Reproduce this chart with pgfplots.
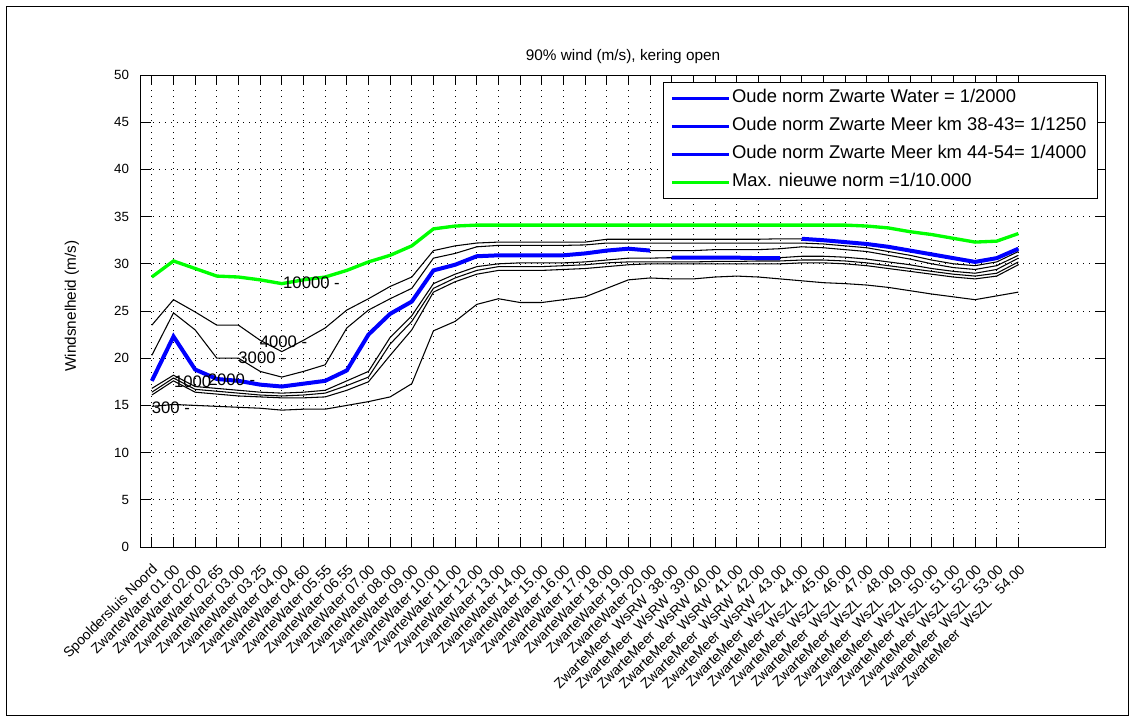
\documentclass[border=0pt]{standalone}
\usepackage{pgfplots}
\pgfplotsset{compat=1.18}
\usepackage{pgfplotstable}
\usepackage{fontspec}
\setmainfont{Liberation Sans}

\pgfplotstableread{
i  g     l4    l3    l2    l12   l1    l5    l03   b1    b2    b3
0  28.6  23.5  20.3  17.6  16.8  16.4  16.1  14.9  17.6  nan   nan
1  30.3  26.2  24.8  22.3  18.2  17.9  17.6  15.1  22.3  nan   nan
2  29.5  24.9  23.0  18.8  17.0  16.7  16.4  15.0  18.8  nan   nan
3  28.7  23.5  20.0  17.8  16.8  16.5  16.2  14.9  17.8  nan   nan
4  28.6  23.5  20.0  17.6  16.6  16.3  16.0  14.8  17.6  nan   nan
5  28.3  21.9  18.6  17.2  16.4  16.1  15.9  14.7  17.2  nan   nan
6  27.9  20.7  18.0  17.0  16.3  16.0  15.8  14.5  17.0  nan   nan
7  28.3  21.9  18.6  17.3  16.4  16.1  15.8  14.6  17.3  nan   nan
8  28.6  23.2  19.3  17.6  16.6  16.3  15.9  14.6  17.6  nan   nan
9  29.3  25.1  23.2  18.7  17.6  17.1  16.6  15.0  18.7  nan   nan
10 30.2  26.3  25.1  22.5  18.6  18.0  17.5  15.4  22.5  nan   nan
11 30.9  27.6  26.3  24.7  22.2  21.5  20.3  15.9  24.7  nan   nan
12 31.9  28.6  27.4  26.0  24.5  23.9  23.0  17.3  26.0  nan   nan
13 33.7  31.4  30.6  29.3  27.9  27.4  27.0  22.9  29.3  nan   nan
14 34.0  31.9  31.1  29.9  28.9  28.5  28.1  23.9  29.9  nan   nan
15 34.1  32.2  31.8  30.8  29.7  29.3  28.9  25.7  30.8  nan   nan
16 34.1  32.3  31.95 30.9  30.0  29.7  29.3  26.3  30.9  nan   nan
17 34.1  32.3  31.95 30.9  30.1  29.7  29.3  25.9  30.9  nan   nan
18 34.1  32.3  31.95 30.9  30.1  29.7  29.3  25.9  30.9  nan   nan
19 34.1  32.3  31.95 30.9  30.1  29.8  29.4  26.2  30.9  nan   nan
20 34.1  32.3  32.0  31.1  30.2  29.9  29.5  26.5  31.1  nan   nan
21 34.1  32.6  32.2  31.4  30.4  30.1  29.7  27.4  31.4  nan   nan
22 34.1  32.6  32.2  31.6  30.6  30.2  29.9  28.3  31.6  nan   nan
23 34.1  32.6  32.2  31.4  30.6  30.2  30.0  28.5  31.4  nan   nan
24 34.1  32.6  32.2  31.4  30.65 30.2  30.0  28.4  nan   30.65 nan
25 34.1  32.6  32.2  31.4  30.65 30.2  30.0  28.4  nan   30.65 nan
26 34.1  32.6  32.2  31.5  30.65 30.25 30.0  28.6  nan   30.65 nan
27 34.1  32.6  32.2  31.5  30.65 30.25 30.0  28.7  nan   30.65 nan
28 34.1  32.6  32.2  31.5  30.65 30.3  30.0  28.6  nan   30.6  nan
29 34.1  32.65 32.2  31.6  30.65 30.3  30.0  28.4  nan   30.6  nan
30 34.1  32.65 32.2  31.8  30.8  30.4  30.1  28.2  nan   nan   32.65
31 34.1  32.5  32.1  31.7  30.8  30.4  30.1  28.0  nan   nan   32.5
32 34.1  32.3  31.9  31.5  30.7  30.3  30.0  27.9  nan   nan   32.3
33 34.0  32.1  31.7  31.3  30.5  30.1  29.8  27.75 nan   nan   32.1
34 33.8  31.8  31.3  30.9  30.2  29.8  29.5  27.5  nan   nan   31.8
35 33.4  31.4  30.9  30.5  29.9  29.5  29.2  27.15 nan   nan   31.4
36 33.1  31.0  30.4  30.0  29.5  29.2  28.9  26.8  nan   nan   31.0
37 32.7  30.6  30.0  29.6  29.2  28.9  28.6  26.5  nan   nan   30.6
38 32.3  30.2  29.8  29.4  29.0  28.7  28.4  26.2  nan   nan   30.2
39 32.4  30.6  30.2  29.8  29.4  29.0  28.7  26.6  nan   nan   30.6
40 33.2  31.6  31.3  30.9  30.6  30.2  29.9  27.0  nan   nan   31.6
}\datatable

\begin{document}
\begin{tikzpicture}
\path[use as bounding box] (-105.75pt,-131.25pt) rectangle (745.5pt,410.25pt);
\begin{axis}[
  at={(0pt,0pt)}, anchor=south west,
  width=723pt, height=354pt, scale only axis,
  xmin=-0.5, xmax=44, ymin=0, ymax=50,
  xtick={0,...,40},
  xticklabels={Spooldersluis Noord, ZwarteWater 01.00, ZwarteWater 02.00, ZwarteWater 02.65, ZwarteWater 03.00, ZwarteWater 03.25, ZwarteWater 04.00, ZwarteWater 04.60, ZwarteWater 05.55, ZwarteWater 06.55, ZwarteWater 07.00, ZwarteWater 08.00, ZwarteWater 09.00, ZwarteWater 10.00, ZwarteWater 11.00, ZwarteWater 12.00, ZwarteWater 13.00, ZwarteWater 14.00, ZwarteWater 15.00, ZwarteWater 16.00, ZwarteWater 17.00, ZwarteWater 18.00, ZwarteWater 19.00, ZwarteWater 20.00,
  ZwarteMeer\ \ WsRW\ \ 38.00, ZwarteMeer\ \ WsRW\ \ 39.00, ZwarteMeer\ \ WsRW\ \ 40.00, ZwarteMeer\ \ WsRW\ \ 41.00, ZwarteMeer\ \ WsRW\ \ 42.00, ZwarteMeer\ \ WsRW\ \ 43.00,
  ZwarteMeer\ \ WsZL\ \ \ 44.00, ZwarteMeer\ \ WsZL\ \ \ 45.00, ZwarteMeer\ \ WsZL\ \ \ 46.00, ZwarteMeer\ \ WsZL\ \ \ 47.00, ZwarteMeer\ \ WsZL\ \ \ 48.00, ZwarteMeer\ \ WsZL\ \ \ 49.00, ZwarteMeer\ \ WsZL\ \ \ 50.00, ZwarteMeer\ \ WsZL\ \ \ 51.00, ZwarteMeer\ \ WsZL\ \ \ 52.00, ZwarteMeer\ \ WsZL\ \ \ 53.00, ZwarteMeer\ \ WsZL\ \ \ 54.00},
  xticklabel style={xshift=3pt, yshift=-15pt, rotate=45, anchor=east, inner sep=0pt, font=\fontsize{10.5}{12}\selectfont},
  ytick={0,5,...,50},
  yticklabel style={xshift=-5.5pt, font=\fontsize{10}{12}\selectfont},
  /pgf/number format/assume math mode=true,
  tick align=inside, major tick length=7.2pt,
  every tick/.style={black, line width=0.75pt},
  axis line style={black, line width=0.75pt},
  grid=major,
  major grid style={black, line width=0.75pt, dash pattern=on 0.75pt off 3.75pt},
  title={90\% wind (m/s), kering open},
  title style={at={(axis description cs:0.5,1)}, anchor=center, yshift=8pt, font=\fontsize{11.5}{14}\selectfont},
  ylabel={Windsnelheid (m/s)},
  ylabel style={at={(axis description cs:0,0.5)}, anchor=center, xshift=3.75pt, yshift=51.75pt, font=\fontsize{11.5}{14}\selectfont},
  unbounded coords=jump,
  legend style={at={(1,1)}, anchor=north east, xshift=-5.25pt, yshift=-5.25pt, draw=black, fill=white,
    font=\fontsize{13.8}{16}\selectfont, row sep=4pt, inner xsep=6.5pt, inner ysep=3.5pt,
    nodes={text height=10pt, text depth=3pt, inner sep=2pt}},
  legend cell align=left,
  legend image code/.code={\fill[#1, draw=none] (0pt,-1pt) rectangle (42.75pt,1pt);},
]
\addplot[black, line width=0.8pt, forget plot] table[x=i, y=l4] {\datatable};
\addplot[black, line width=0.8pt, forget plot] table[x=i, y=l3] {\datatable};
\addplot[black, line width=0.8pt, forget plot] table[x=i, y=l2] {\datatable};
\addplot[black, line width=0.8pt, forget plot] table[x=i, y=l12] {\datatable};
\addplot[black, line width=0.8pt, forget plot] table[x=i, y=l1] {\datatable};
\addplot[black, line width=0.8pt, forget plot] table[x=i, y=l5] {\datatable};
\addplot[black, line width=0.8pt, forget plot] table[x=i, y=l03] {\datatable};
\addplot[blue, line width=3pt] table[x=i, y=b1] {\datatable};
\addlegendentry{Oude norm Zwarte Water = 1/2000}
\addplot[blue, line width=3pt] table[x=i, y=b2] {\datatable};
\addlegendentry{Oude norm Zwarte Meer km 38-43= 1/1250}
\addplot[blue, line width=3pt] table[x=i, y=b3] {\datatable};
\addlegendentry{Oude norm Zwarte Meer km 44-54= 1/4000}
\addplot[green, line width=2.5pt] table[x=i, y=g] {\datatable};
\addlegendentry{Max. nieuwe norm =1/10.000}
\node[font=\fontsize{12.5}{14}\selectfont] at (axis cs:7.37,27.97) {10000 -};
\node[font=\fontsize{12.5}{14}\selectfont] at (axis cs:6.08,21.7) {4000 -};
\node[font=\fontsize{12.5}{14}\selectfont] at (axis cs:5.09,20.0) {3000 -};
\node[font=\fontsize{12.5}{14}\selectfont] at (axis cs:3.68,17.7) {2000 -};
\node[font=\fontsize{12.5}{14}\selectfont] at (axis cs:1.88,17.5) {1000};
\node[font=\fontsize{12.5}{14}\selectfont] at (axis cs:0.88,14.8) {300 -};
\end{axis}
\draw[black, line width=0.75pt] (-100.5pt,-126pt) rectangle (740.25pt,405pt);
\end{tikzpicture}
\end{document}
